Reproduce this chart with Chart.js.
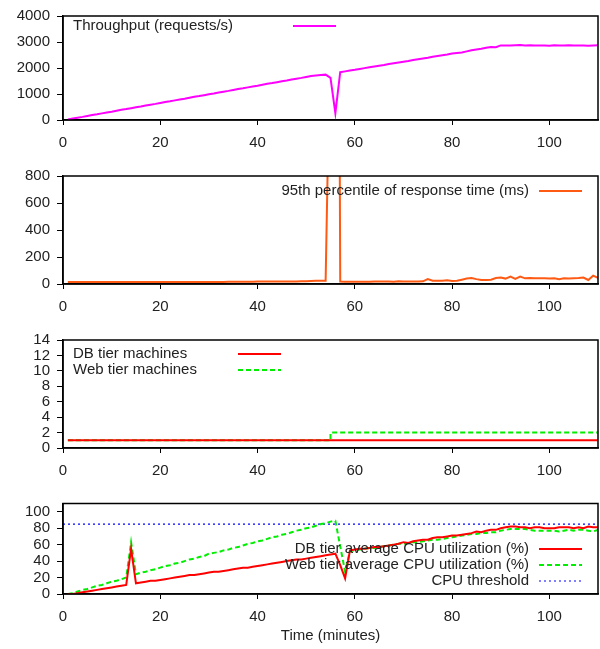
<!DOCTYPE html>
<html>
<head>
<meta charset="utf-8">
<script src="https://cdn.jsdelivr.net/npm/chart.js@4.4.1/dist/chart.umd.min.js"></script>
<style>
  body { margin: 0; background: #fff; }
  .panel { position: absolute; left: 0; width: 600px; }
</style>
</head>
<body>
<div class="panel" style="top:0;height:160px"><canvas id="c1"></canvas></div>
<div class="panel" style="top:160px;height:160px"><canvas id="c2"></canvas></div>
<div class="panel" style="top:320px;height:165px"><canvas id="c3"></canvas></div>
<div class="panel" style="top:485px;height:164px"><canvas id="c4"></canvas></div>
<script>
// minute index of each sample
const minutes = Array.from({ length: 110 }, (_, i) => i + 1);

const throughput = [
  20, 55, 90, 120, 155, 190, 220, 255, 290, 320,
  355, 390, 420, 455, 490, 520, 555, 590, 620, 655,
  690, 720, 755, 790, 820, 855, 890, 920, 955, 990,
  1020, 1055, 1090, 1120, 1155, 1190, 1220, 1255, 1290, 1320,
  1355, 1390, 1420, 1455, 1490, 1520, 1555, 1590, 1620, 1655,
  1690, 1715, 1735, 1745, 1620, 260, 1840, 1870, 1900, 1930,
  1965, 1995, 2025, 2055, 2085, 2115, 2150, 2180, 2210, 2240,
  2270, 2305, 2335, 2365, 2395, 2430, 2460, 2490, 2520, 2555,
  2580, 2600, 2640, 2680, 2710, 2740, 2780, 2810, 2800, 2870,
  2870, 2865, 2875, 2885, 2870, 2875, 2870, 2865, 2870, 2855,
  2875, 2870, 2870, 2875, 2865, 2870, 2870, 2860, 2870, 2875
];

const responseP95 = [
  15, 15, 15, 15, 15, 15, 15, 15, 15, 15,
  15, 15, 15, 15, 15, 15, 15, 15, 15, 15,
  15, 15, 15, 15, 15, 15, 15, 15, 15, 15,
  15, 15, 15, 16, 16, 16, 16, 17, 17, 18,
  18, 18, 18, 18, 19, 19, 19, 19, 20, 20,
  22, 24, 25, 25, 2000, 9000, 18, 17, 17, 17,
  17, 17, 17, 18, 18, 18, 18, 17, 20, 18,
  18, 18, 18, 20, 36, 24, 24, 24, 28, 22,
  24, 32, 40, 44, 36, 30, 30, 32, 44, 48,
  40, 55, 38, 55, 42, 44, 43, 42, 42, 40,
  42, 36, 42, 40, 42, 44, 48, 30, 62, 45
];

const dbMachines = [
  1, 1, 1, 1, 1, 1, 1, 1, 1, 1,
  1, 1, 1, 1, 1, 1, 1, 1, 1, 1,
  1, 1, 1, 1, 1, 1, 1, 1, 1, 1,
  1, 1, 1, 1, 1, 1, 1, 1, 1, 1,
  1, 1, 1, 1, 1, 1, 1, 1, 1, 1,
  1, 1, 1, 1, 1, 1, 1, 1, 1, 1,
  1, 1, 1, 1, 1, 1, 1, 1, 1, 1,
  1, 1, 1, 1, 1, 1, 1, 1, 1, 1,
  1, 1, 1, 1, 1, 1, 1, 1, 1, 1,
  1, 1, 1, 1, 1, 1, 1, 1, 1, 1,
  1, 1, 1, 1, 1, 1, 1, 1, 1, 1
];

const webMachines = [
  1, 1, 1, 1, 1, 1, 1, 1, 1, 1,
  1, 1, 1, 1, 1, 1, 1, 1, 1, 1,
  1, 1, 1, 1, 1, 1, 1, 1, 1, 1,
  1, 1, 1, 1, 1, 1, 1, 1, 1, 1,
  1, 1, 1, 1, 1, 1, 1, 1, 1, 1,
  1, 1, 1, 1, 2, 2, 2, 2, 2, 2,
  2, 2, 2, 2, 2, 2, 2, 2, 2, 2,
  2, 2, 2, 2, 2, 2, 2, 2, 2, 2,
  2, 2, 2, 2, 2, 2, 2, 2, 2, 2,
  2, 2, 2, 2, 2, 2, 2, 2, 2, 2,
  2, 2, 2, 2, 2, 2, 2, 2, 2, 2
];

const dbCpu = [
  0, 0, 1, 2, 3, 4, 5, 6, 7, 8,
  9, 10, 11, 55, 13, 14, 15, 16, 16, 17,
  18, 19, 20, 21, 22, 23, 23, 24, 25, 26,
  27, 27, 28, 29, 30, 31, 32, 32, 33, 34,
  35, 36, 37, 38, 39, 40, 41, 42, 42, 43,
  44, 45, 46, 47, 48, 49, 35, 19, 53, 54,
  55, 55, 56, 57, 57, 58, 59, 60, 61, 63,
  62, 64, 65, 66, 66, 68, 69, 69, 70, 71,
  71, 72, 73, 74, 76, 75, 77, 78, 78, 80,
  81, 82, 82, 81, 81, 80, 81, 81, 80, 80,
  80, 81, 81, 81, 80, 81, 80, 82, 81, 81
];

const webCpu = [
  0, 1, 3, 5, 6, 8, 10, 11, 13, 15,
  16, 18, 20, 63, 24, 26, 27, 29, 30, 32,
  34, 35, 37, 38, 40, 42, 43, 45, 46, 49,
  50, 51, 53, 54, 56, 57, 59, 61, 62, 64,
  65, 67, 69, 70, 72, 73, 75, 77, 78, 80,
  81, 83, 85, 86, 88, 89, 58, 27, 52, 53,
  54, 55, 56, 56, 57, 58, 59, 60, 61, 61,
  62, 63, 63, 64, 65, 66, 66, 67, 68, 69,
  70, 71, 72, 73, 73, 74, 74, 75, 75, 77,
  78, 79, 79, 79, 79, 78, 77, 77, 77, 77,
  77, 76, 77, 78, 77, 78, 78, 77, 76, 78
];

const cpuThreshold = 85;

// tick labels for each axis
const xTicks = [0, 20, 40, 60, 80, 100];
const throughputTicks = [0, 1000, 2000, 3000, 4000];
const responseTicks = [0, 200, 400, 600, 800];
const machineTicks = [0, 2, 4, 6, 8, 10, 12, 14];
const cpuTicks = [0, 20, 40, 60, 80, 100];
const xRange = [0, 110];

const FONT = '"Liberation Sans", Arial, Helvetica, sans-serif';
const TEXT = '#222';
const FSIZE = 15;

const pts = (arr) => minutes.map((m, i) => ({ x: m, y: arr[i] }));

// gnuplot style key: text, then a short sample of the line
const keyPlugin = {
  id: 'gnuKey',
  afterDatasetsDraw(chart, args, opts) {
    if (!opts.items) return;
    const ctx = chart.ctx;
    ctx.save();
    ctx.font = FSIZE + 'px ' + FONT;
    ctx.textBaseline = 'middle';
    opts.items.forEach((it, i) => {
      const y = opts.y + i * (opts.lineHeight || 16);
      ctx.fillStyle = TEXT;
      ctx.textAlign = opts.align;
      ctx.fillText(it.text, opts.textX, y);
      ctx.beginPath();
      ctx.setLineDash(it.dash || []);
      ctx.strokeStyle = it.color;
      ctx.lineWidth = it.width || 2;
      ctx.moveTo(opts.sx0, y);
      ctx.lineTo(opts.sx1, y);
      ctx.stroke();
    });
    ctx.restore();
  }
};

// closed box around the plot area
const framePlugin = {
  id: 'frame',
  afterDraw(chart) {
    const { ctx, chartArea: a } = chart;
    ctx.save();
    ctx.strokeStyle = '#000';
    ctx.lineWidth = 1.5;
    ctx.setLineDash([]);
    ctx.strokeRect(a.left, a.top, a.right - a.left, a.bottom - a.top);
    ctx.restore();
  }
};

function panelOptions({ yMax, yTicks, top, xHeight, title, key }) {
  return {
    responsive: true,
    maintainAspectRatio: false,
    animation: false,
    layout: { padding: { top: top, right: 2, left: 0, bottom: 0 } },
    elements: { point: { radius: 0 }, line: { tension: 0 } },
    plugins: {
      legend: { display: false },
      tooltip: { enabled: false },
      gnuKey: key,
    },
    scales: {
      x: {
        type: 'linear',
        min: xRange[0],
        max: xRange[1],
        afterFit: (s) => { s.height = xHeight; },
        afterBuildTicks: (s) => { s.ticks = xTicks.map((v) => ({ value: v })); },
        ticks: {
          maxRotation: 0, autoSkip: false, padding: 9, color: TEXT,
          font: { family: FONT, size: FSIZE }, callback: (v) => String(v),
        },
        grid: { drawOnChartArea: false, color: '#000', tickLength: 5 },
        border: { color: '#000', width: 1.5 },
        title: title
          ? { display: true, text: title, color: TEXT, font: { family: FONT, size: FSIZE }, padding: { top: 3 } }
          : { display: false },
      },
      y: {
        min: 0,
        max: yMax,
        afterFit: (s) => { s.width = 63; },
        afterBuildTicks: (s) => { s.ticks = yTicks.map((v) => ({ value: v })); },
        ticks: {
          autoSkip: false, padding: 7, color: TEXT,
          font: { family: FONT, size: FSIZE }, callback: (v) => String(v),
        },
        grid: { drawOnChartArea: false, color: '#000', tickLength: 6 },
        border: { color: '#000', width: 1.5 },
      },
    },
  };
}

new Chart(document.getElementById('c1'), {
  type: 'line',
  data: {
    datasets: [
      { label: 'Throughput (requests/s)', data: pts(throughput), borderColor: '#ff00ff', borderWidth: 2 },
    ],
  },
  options: panelOptions({
    yMax: 4000, yTicks: throughputTicks, top: 13, xHeight: 40,
    key: { items: [{ text: 'Throughput (requests/s)', color: '#ff00ff' }], textX: 73, align: 'left', y: 26, sx0: 293, sx1: 336 },
  }),
  plugins: [keyPlugin, framePlugin],
});

new Chart(document.getElementById('c2'), {
  type: 'line',
  data: {
    datasets: [
      { label: '95th percentile of response time (ms)', data: pts(responseP95), borderColor: '#ff5a14', borderWidth: 2 },
    ],
  },
  options: panelOptions({
    yMax: 800, yTicks: responseTicks, top: 16, xHeight: 36,
    key: { items: [{ text: '95th percentile of response time (ms)', color: '#ff5a14' }], textX: 529, align: 'right', y: 31, sx0: 539, sx1: 582 },
  }),
  plugins: [keyPlugin, framePlugin],
});

new Chart(document.getElementById('c3'), {
  type: 'line',
  data: {
    datasets: [
      { label: 'DB tier machines', data: pts(dbMachines), borderColor: '#ff0000', borderWidth: 2, stepped: true },
      { label: 'Web tier machines', data: pts(webMachines), borderColor: '#00ee00', borderWidth: 2, borderDash: [5, 3], stepped: true },
    ],
  },
  options: panelOptions({
    yMax: 14, yTicks: machineTicks, top: 20, xHeight: 37,
    key: {
      items: [
        { text: 'DB tier machines', color: '#ff0000' },
        { text: 'Web tier machines', color: '#00ee00', dash: [5, 3] },
      ],
      textX: 73, align: 'left', y: 34, lineHeight: 16, sx0: 238, sx1: 281,
    },
  }),
  plugins: [keyPlugin, framePlugin],
});

new Chart(document.getElementById('c4'), {
  type: 'line',
  data: {
    datasets: [
      { label: 'DB tier average CPU utilization (%)', data: pts(dbCpu), borderColor: '#ff0000', borderWidth: 2 },
      { label: 'Web tier average CPU utilization (%)', data: pts(webCpu), borderColor: '#00ee00', borderWidth: 2, borderDash: [5, 3] },
      {
        label: 'CPU threshold',
        data: [{ x: xRange[0], y: cpuThreshold }, { x: xRange[1], y: cpuThreshold }],
        borderColor: '#0000ff', borderWidth: 1.2, borderDash: [2, 3],
      },
    ],
  },
  options: panelOptions({
    yMax: 110, yTicks: cpuTicks, top: 18.5, xHeight: 55, title: 'Time (minutes)',
    key: {
      items: [
        { text: 'DB tier average CPU utilization (%)', color: '#ff0000' },
        { text: 'Web tier average CPU utilization (%)', color: '#00ee00', dash: [5, 3] },
        { text: 'CPU threshold', color: '#0000ff', dash: [2, 3], width: 1.2 },
      ],
      textX: 529, align: 'right', y: 64, lineHeight: 16, sx0: 539, sx1: 582,
    },
  }),
  plugins: [keyPlugin, framePlugin],
});
</script>
</body>
</html>
